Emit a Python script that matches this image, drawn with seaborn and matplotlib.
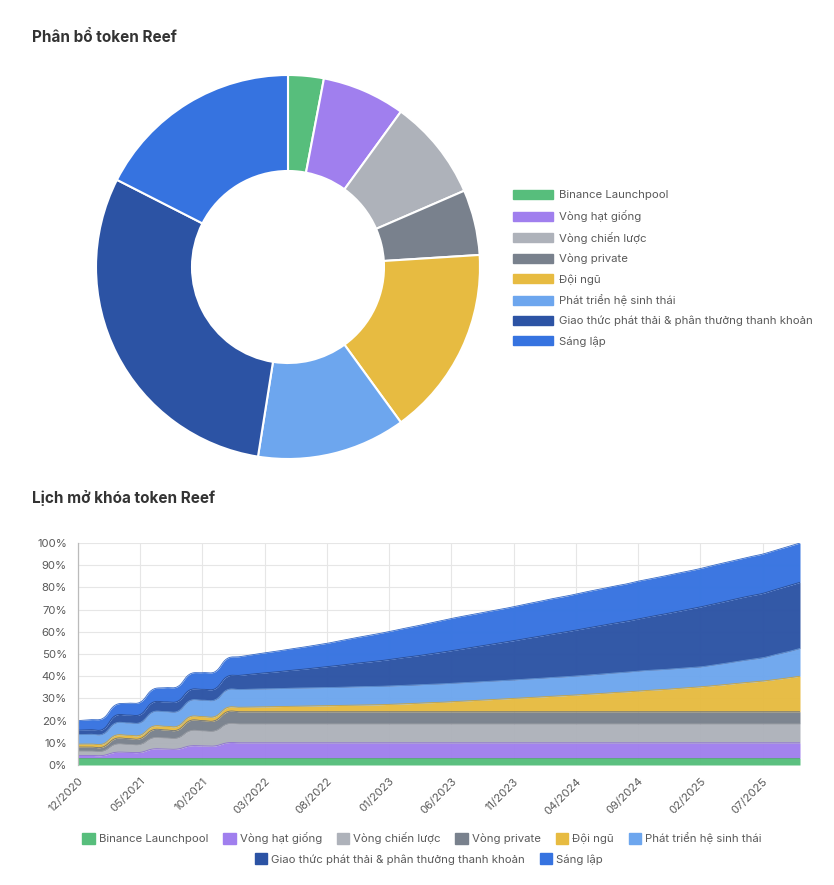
# -*- coding: utf-8 -*-
"""
Reef token allocation (donut) + unlock schedule (stacked area)
"""
import numpy as np
import pandas as pd
import matplotlib
matplotlib.use("Agg")
import matplotlib.pyplot as plt
from matplotlib.patches import Patch
import seaborn as sns

###########
# Data
###########

labels = ['Binance Launchpool', 'Vòng hạt giống', 'Vòng chiến lược', 'Vòng private',
          'Đội ngũ', 'Phát triển hệ sinh thái',
          'Giao thức phát thải & phân thưởng thanh khoản', 'Sáng lập']
colors = ['#57BE7C', '#A07FEE', '#AEB2BA', '#79818D', '#E7BB41', '#6DA6EE', '#2C53A4', '#3673E0']

# allocation share (%)
shares = [3, 7, 8.5, 5.5, 16, 12.5, 30, 17.5]

# monthly unlocked share of total supply (%), 12/2020 .. 10/2025
launchpool = [3.0, 3.0, 3.0, 3.0, 3.0, 3.0, 3.0, 3.0, 3.0, 3.0, 3.0, 3.0,
              3.0, 3.0, 3.0, 3.0, 3.0, 3.0, 3.0, 3.0, 3.0, 3.0, 3.0, 3.0,
              3.0, 3.0, 3.0, 3.0, 3.0, 3.0, 3.0, 3.0, 3.0, 3.0, 3.0, 3.0,
              3.0, 3.0, 3.0, 3.0, 3.0, 3.0, 3.0, 3.0, 3.0, 3.0, 3.0, 3.0,
              3.0, 3.0, 3.0, 3.0, 3.0, 3.0, 3.0, 3.0, 3.0, 3.0, 3.0]
seed = [1.3, 1.3, 1.3, 2.7, 2.7, 2.7, 4.2, 4.2, 4.2, 5.6, 5.6, 5.6,
        7.0, 7.0, 7.0, 7.0, 7.0, 7.0, 7.0, 7.0, 7.0, 7.0, 7.0, 7.0,
        7.0, 7.0, 7.0, 7.0, 7.0, 7.0, 7.0, 7.0, 7.0, 7.0, 7.0, 7.0,
        7.0, 7.0, 7.0, 7.0, 7.0, 7.0, 7.0, 7.0, 7.0, 7.0, 7.0, 7.0,
        7.0, 7.0, 7.0, 7.0, 7.0, 7.0, 7.0, 7.0, 7.0, 7.0, 7.0]
strategic = [2.0, 2.0, 2.0, 3.6, 3.6, 3.6, 5.0, 5.0, 5.0, 6.8, 6.8, 6.8,
             8.5, 8.5, 8.5, 8.5, 8.5, 8.5, 8.5, 8.5, 8.5, 8.5, 8.5, 8.5,
             8.5, 8.5, 8.5, 8.5, 8.5, 8.5, 8.5, 8.5, 8.5, 8.5, 8.5, 8.5,
             8.5, 8.5, 8.5, 8.5, 8.5, 8.5, 8.5, 8.5, 8.5, 8.5, 8.5, 8.5,
             8.5, 8.5, 8.5, 8.5, 8.5, 8.5, 8.5, 8.5, 8.5, 8.5, 8.5]
private = [1.8, 1.8, 1.8, 2.6, 2.6, 2.6, 3.6, 3.6, 3.6, 4.6, 4.6, 4.6,
           5.5, 5.5, 5.5, 5.5, 5.5, 5.5, 5.5, 5.5, 5.5, 5.5, 5.5, 5.5,
           5.5, 5.5, 5.5, 5.5, 5.5, 5.5, 5.5, 5.5, 5.5, 5.5, 5.5, 5.5,
           5.5, 5.5, 5.5, 5.5, 5.5, 5.5, 5.5, 5.5, 5.5, 5.5, 5.5, 5.5,
           5.5, 5.5, 5.5, 5.5, 5.5, 5.5, 5.5, 5.5, 5.5, 5.5, 5.5]
team = [1.3, 1.35, 1.4, 1.45, 1.5, 1.55, 1.6, 1.65, 1.7, 1.75, 1.8, 1.85,
        1.9, 2.0, 2.1, 2.2, 2.3, 2.4, 2.5, 2.6, 2.7, 2.8, 2.9, 3.0,
        3.1, 3.3, 3.5, 3.7, 4.0, 4.2, 4.5, 4.8, 5.1, 5.4, 5.7, 6.0,
        6.3, 6.6, 6.9, 7.2, 7.5, 7.9, 8.2, 8.6, 8.9, 9.3, 9.7, 10.0,
        10.4, 10.8, 11.2, 11.7, 12.2, 12.8, 13.3, 13.8, 14.5, 15.2, 16.0]
ecosystem = [4.3, 4.4, 4.5, 5.5, 5.6, 5.7, 6.5, 6.6, 6.7, 7.3, 7.4, 7.5,
             8.0, 8.0, 8.1, 8.1, 8.1, 8.2, 8.2, 8.2, 8.2, 8.2, 8.3, 8.3,
             8.3, 8.3, 8.3, 8.3, 8.3, 8.3, 8.3, 8.3, 8.3, 8.3, 8.3, 8.3,
             8.4, 8.4, 8.5, 8.5, 8.6, 8.6, 8.7, 8.8, 8.9, 9.0, 9.0, 9.0,
             9.0, 9.0, 9.0, 9.3, 9.6, 9.9, 10.2, 10.5, 11.2, 11.8, 12.5]
liquidity = [2.0, 2.05, 2.1, 3.4, 3.5, 3.6, 4.3, 4.4, 4.5, 4.8, 4.9, 5.0,
             6.0, 6.4, 6.8, 7.2, 7.6, 8.0, 8.4, 8.9, 9.4, 9.9, 10.4, 10.9,
             11.4, 11.9, 12.5, 13.0, 13.5, 14.1, 14.7, 15.3, 15.9, 16.5, 17.1, 17.7,
             18.3, 18.9, 19.5, 20.1, 20.7, 21.3, 21.9, 22.4, 22.9, 23.5, 24.2, 24.9,
             25.6, 26.3, 27.0, 27.5, 27.9, 28.3, 28.7, 29.0, 29.3, 29.6, 29.8]
founders = [4.3, 4.5, 4.9, 4.75, 5.3, 5.55, 5.8, 6.35, 6.6, 7.15, 7.5, 7.65,
            8.1, 8.4, 8.7, 9.0, 9.3, 9.6, 9.9, 10.2, 10.5, 11.0, 11.4, 11.8,
            12.2, 12.6, 13.0, 13.4, 13.8, 14.2, 14.5, 14.7, 14.8, 15.0, 15.1, 15.3,
            15.5, 15.7, 15.9, 16.0, 16.2, 16.4, 16.5, 16.7, 16.8, 17.0, 17.0, 17.1,
            17.2, 17.2, 17.3, 17.4, 17.5, 17.5, 17.6, 17.7, 17.7, 17.7, 17.7]

series = [launchpool, seed, strategic, private, team, ecosystem, liquidity, founders]
months = pd.date_range('2020-12-01', periods=len(launchpool), freq='MS')
month_labels = list(months.strftime('%m/%Y'))


def smooth_curve(x, y, sx=12.46, sy=2.22, tension=0.4, n=12):
    # bezier spline through the monthly points (chart.js style, tension 0.4),
    # control points worked out in pixel space
    px = np.asarray(x, float) * sx
    py = np.asarray(y, float) * sy
    k = len(px)
    c1x, c1y = px.copy(), py.copy()   # control before point
    c2x, c2y = px.copy(), py.copy()   # control after point
    for i in range(1, k - 1):
        d01 = np.hypot(px[i] - px[i - 1], py[i] - py[i - 1])
        d12 = np.hypot(px[i + 1] - px[i], py[i + 1] - py[i])
        s01 = d01 / (d01 + d12)
        s12 = d12 / (d01 + d12)
        dx = px[i + 1] - px[i - 1]
        dy = py[i + 1] - py[i - 1]
        c1x[i] = px[i] - tension * s01 * dx
        c1y[i] = py[i] - tension * s01 * dy
        c2x[i] = px[i] + tension * s12 * dx
        c2y[i] = py[i] + tension * s12 * dy
    xs, ys = [], []
    t = np.linspace(0, 1, n, endpoint=False)
    for i in range(k - 1):
        a, b, c, d = (1 - t)**3, 3 * (1 - t)**2 * t, 3 * (1 - t) * t**2, t**3
        xs.append(a * px[i] + b * c2x[i] + c * c1x[i + 1] + d * px[i + 1])
        ys.append(a * py[i] + b * c2y[i] + c * c1y[i + 1] + d * py[i + 1])
    xs.append([px[-1]])
    ys.append([py[-1]])
    return np.concatenate(xs) / sx, np.concatenate(ys) / sy


###########
# Style
###########

sns.set_theme(style='whitegrid')
plt.rcParams['font.family'] = ['Inter', 'DejaVu Sans']
text_grey = '#5a5a5a'

fig = plt.figure(figsize=(8.34, 8.85), dpi=100)
W, H = 834, 885


def box(x0, y0, x1, y1):
    return [x0 / W, 1 - y1 / H, (x1 - x0) / W, (y1 - y0) / H]


fig.text(32 / W, 1 - 37 / H, 'Phân bổ token Reef', fontsize=11, fontweight='bold',
         color='#333333', va='center', ha='left')
fig.text(32 / W, 1 - 498 / H, 'Lịch mở khóa token Reef', fontsize=11, fontweight='bold',
         color='#333333', va='center', ha='left')

###########
# Donut
###########

ax_pie = fig.add_axes(box(96, 75, 480, 459))
ax_pie.pie(shares, colors=colors, startangle=90, counterclock=False,
           wedgeprops=dict(width=0.5, edgecolor='white', linewidth=1.5))
ax_pie.set_xlim(-1, 1)
ax_pie.set_ylim(-1, 1)
ax_pie.set_aspect('equal')

handles = [Patch(facecolor=c, edgecolor=c, label=l) for c, l in zip(colors, labels)]
fig.legend(handles=handles, loc='upper left', bbox_to_anchor=(513 / W, 1 - 190 / H),
           frameon=False, fontsize=8.2, handlelength=3.5, handleheight=0.85,
           labelspacing=0.85, handletextpad=0.5, borderpad=0, borderaxespad=0,
           labelcolor=text_grey)

###########
# Stacked area
###########

ax = fig.add_axes(box(78, 543, 800, 765))
x = np.arange(len(launchpool))
tops = np.cumsum(np.array(series), axis=0)

curves = [smooth_curve(x, t) for t in tops]
prev = np.zeros_like(curves[0][1])
edge_rows = []
for (cx, cy), c, lab in zip(curves, colors, labels):
    ax.fill_between(cx, prev, cy, color=c, linewidth=0, alpha=0.97)
    edge_rows.append(pd.DataFrame({'x': cx, 'y': cy, 'layer': lab}))
    prev = cy

# layer edges
edge_df = pd.concat(edge_rows, ignore_index=True)
sns.lineplot(data=edge_df, x='x', y='y', hue='layer', hue_order=labels,
             palette=[sns.dark_palette(c, 8)[6] for c in colors],
             linewidth=0.6, legend=False, ax=ax, estimator=None, sort=False)

ax.set_xlim(0, x[-1])
ax.set_ylim(0, 100)
ax.set_yticks(range(0, 101, 10))
ax.set_yticklabels([f'{v}%' for v in range(0, 101, 10)])
ax.set_xticks(x[::5])
ax.set_xticklabels(month_labels[::5], rotation=45, ha='right', rotation_mode='anchor')
ax.set_xlabel('')
ax.set_ylabel('')
ax.grid(True, color='#e6e6e6', linewidth=0.8)
ax.set_axisbelow(True)
ax.tick_params(axis='both', labelsize=8.2, colors=text_grey, length=5, width=0.8,
               color='#dddddd', pad=3)
for s in ['top', 'right', 'bottom']:
    ax.spines[s].set_visible(False)
ax.spines['left'].set_color('#bbbbbb')
ax.spines['left'].set_linewidth(0.9)

# bottom legend, two centred rows
sq = dict(handlelength=1.1, handleheight=1.1, handletextpad=0.35, columnspacing=1.3,
          frameon=False, fontsize=8.2, borderpad=0, borderaxespad=0, labelcolor=text_grey)
fig.legend(handles=handles[:6], loc='center', ncol=6,
           bbox_to_anchor=(422 / W, 1 - 838 / H), **sq)
fig.legend(handles=handles[6:], loc='center', ncol=2,
           bbox_to_anchor=(429 / W, 1 - 859 / H), **sq)

fig.savefig('out.png', dpi=100, facecolor='white')
